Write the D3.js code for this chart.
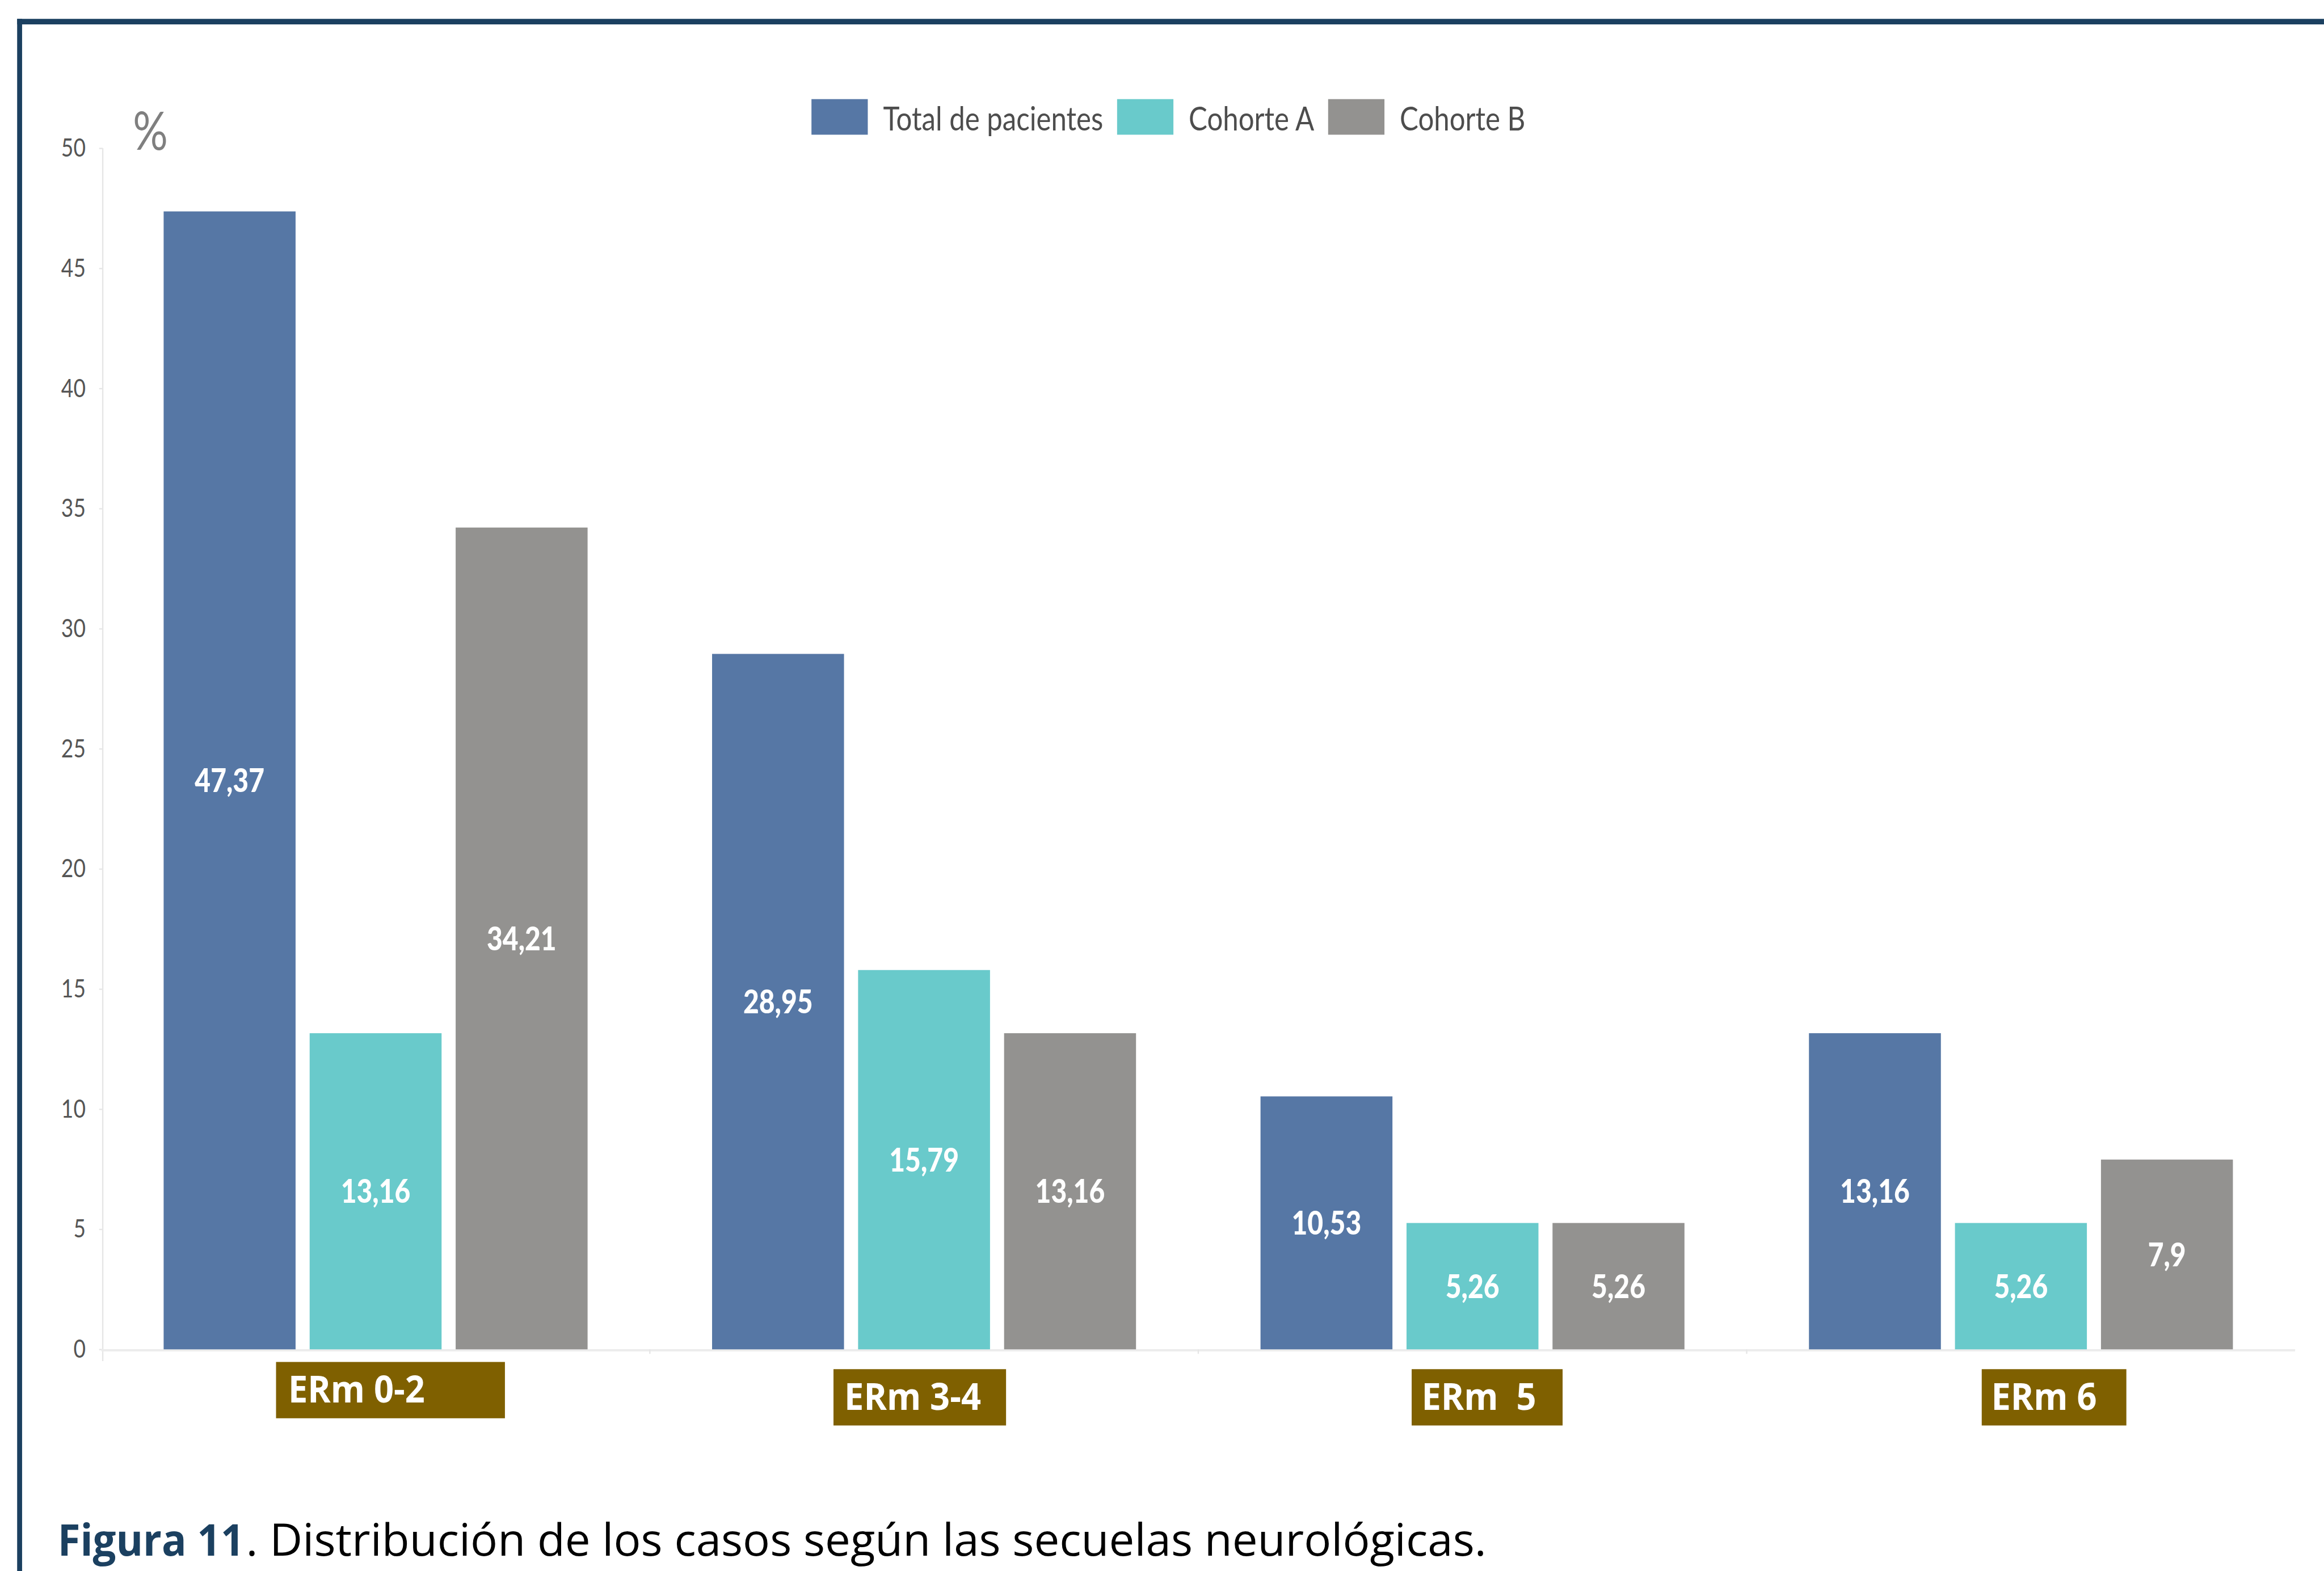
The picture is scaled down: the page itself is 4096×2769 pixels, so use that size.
<!DOCTYPE html>
<html>
<head>
<meta charset="utf-8">
<script src="https://d3js.org/d3.v7.min.js"></script>
<style>
  html, body { margin: 0; padding: 0; background: #fff; }
  svg { display: block; }
</style>
</head>
<body>
<script>

// data
const categories = ["ERm 0-2", "ERm 3-4", "ERm  5", "ERm 6"];
const series = ["Total de pacientes", "Cohorte A", "Cohorte B"];
const totalValues = [47.37, 28.95, 10.53, 13.16];
const cohortA = [13.16, 15.79, 5.26, 5.26];
const cohortB = [34.21, 13.16, 5.26, 7.9];
const yTicks = [0, 5, 10, 15, 20, 25, 30, 35, 40, 45, 50];
const caption1 = "Figura 11";
const caption2 = ". Distribución de los casos según las secuelas neurológicas.";

// styling (drawn in reference pixels, the viewBox shrinks it to the window)
const W = 5158, H = 3487;
const colors = ["#5677a5", "#69cacb", "#939290"];
const navy = "#1b4060";
const olive = "#7f6000";
// category tags: offset of box from the group centre, box top, width
const tagLayout = [
  {dx: -221, top: 3023, w: 508, pad: 27},
  {dx: -201, top: 3039, w: 383, pad: 24},
  {dx: -135, top: 3039, w: 335, pad: 22},
  {dx: -87,  top: 3039, w: 321, pad: 21}
];

let svg = d3.select("body").append("svg")
  .attr("width", 4096)
  .attr("height", 2769)
  .attr("viewBox", `0 0 ${W} ${H}`);

// squeeze text horizontally, the figure's lettering is narrow
function squish(sel, k) {
  sel.each(function () {
    let w = this.getComputedTextLength();
    d3.select(this).attr("textLength", w * k).attr("lengthAdjust", "spacingAndGlyphs");
  });
}

// frame
svg.append("line").attr("x1", 38).attr("x2", W).attr("y1", 48).attr("y2", 48)
  .attr("stroke", navy).attr("stroke-width", 12);
svg.append("line").attr("x1", 43.5).attr("x2", 43.5).attr("y1", 42).attr("y2", H)
  .attr("stroke", navy).attr("stroke-width", 11);

let y = d3.scaleLinear().domain([0, 50]).range([2995, 329]);
let x = d3.scaleBand().domain(categories).range([225, 5094])
  .paddingInner(0.227).paddingOuter(0.1135);
let xs = d3.scaleBand().domain(series).range([0, x.bandwidth()]).paddingInner(0.0964);

// y axis
let yAxis = svg.append("g")
  .attr("transform", "translate(228,0)")
  .call(d3.axisLeft(y).tickValues(yTicks).tickSize(8).tickPadding(30));
yAxis.select(".domain").remove();
yAxis.selectAll(".tick line").attr("stroke", "#e6e6e6").attr("stroke-width", 3);
yAxis.selectAll(".tick text")
  .attr("font-family", "Lato").attr("font-size", 57).attr("fill", "#555");
squish(yAxis.selectAll(".tick text"), 0.82);

svg.append("line").attr("x1", 228).attr("x2", 228)
  .attr("y1", y(50)).attr("y2", y(0) + 26)
  .attr("stroke", "#e6e6e6").attr("stroke-width", 3);

// baseline with small ticks between groups
svg.append("line").attr("x1", 225).attr("x2", 5094)
  .attr("y1", y(0) + 2).attr("y2", y(0) + 2)
  .attr("stroke", "#ececec").attr("stroke-width", 5);
svg.selectAll(".sep")
  .data(categories.slice(1))
  .join("line")
  .attr("class", "sep")
  .attr("x1", d => x(d) - x.step() * x.paddingInner() / 2)
  .attr("x2", d => x(d) - x.step() * x.paddingInner() / 2)
  .attr("y1", y(0)).attr("y2", y(0) + 10)
  .attr("stroke", "#e6e6e6").attr("stroke-width", 3);

// "%" unit
let pct = svg.append("text").attr("x", 295).attr("y", 333)
  .attr("font-family", "Lato").attr("font-size", 118).attr("fill", "#7f7f7f")
  .text("%");
squish(pct, 0.82);

// bars
let table = categories.map((c, i) => ({
  cat: c,
  vals: [totalValues[i], cohortA[i], cohortB[i]]
}));

let groups = svg.selectAll(".grp")
  .data(table)
  .join("g")
  .attr("class", "grp")
  .attr("transform", d => `translate(${x(d.cat)},0)`);

groups.selectAll("rect")
  .data(d => d.vals.map((v, j) => ({s: series[j], v: v, j: j})))
  .join("rect")
  .attr("x", d => xs(d.s))
  .attr("y", d => y(d.v))
  .attr("width", xs.bandwidth())
  .attr("height", d => y(0) - y(d.v))
  .attr("fill", d => colors[d.j]);

let valueLabels = groups.selectAll(".val")
  .data(d => d.vals.map((v, j) => ({s: series[j], v: v, j: j})))
  .join("text")
  .attr("class", "val")
  .attr("x", d => xs(d.s) + xs.bandwidth() / 2)
  .attr("y", d => (y(d.v) + y(0)) / 2 + 26)
  .attr("text-anchor", "middle")
  .attr("font-family", "Lato").attr("font-weight", 900).attr("font-size", 72)
  .attr("fill", "#fff")
  .text(d => String(d.v).replace(".", ","));
squish(valueLabels, 0.84);

// legend
let legend = svg.append("g");
let lx = 1801;
series.forEach((s, i) => {
  legend.append("rect").attr("x", lx).attr("y", 220).attr("width", 125).attr("height", 79)
    .attr("fill", colors[i]);
  lx += 125 + 34;
  let t = legend.append("text").attr("x", lx).attr("y", 290)
    .attr("font-family", "Lato").attr("font-size", 72).attr("fill", "#4d4d4d")
    .text(s);
  let w = t.node().getComputedTextLength() * 0.86;
  t.attr("textLength", w).attr("lengthAdjust", "spacingAndGlyphs");
  lx += w + 31;
});

// category tags
svg.selectAll(".tag")
  .data(categories)
  .join("rect")
  .attr("class", "tag")
  .attr("x", (d, i) => x(d) + x.bandwidth() / 2 + tagLayout[i].dx)
  .attr("y", (d, i) => tagLayout[i].top)
  .attr("width", (d, i) => tagLayout[i].w)
  .attr("height", 125)
  .attr("fill", olive);

let tagText = svg.selectAll(".tagtext")
  .data(categories)
  .join("text")
  .attr("class", "tagtext")
  .attr("x", (d, i) => x(d) + x.bandwidth() / 2 + tagLayout[i].dx + tagLayout[i].pad)
  .attr("y", (d, i) => tagLayout[i].top + 90)
  .attr("xml:space", "preserve")
  .style("white-space", "pre")
  .attr("font-family", "Open Sans").attr("font-weight", 700).attr("font-size", 84)
  .attr("fill", "#fff")
  .text(d => d);
squish(tagText, 0.92);

// caption
svg.append("text").attr("x", 128).attr("y", 3453)
  .attr("font-family", "Open Sans").attr("font-weight", 700).attr("font-size", 98)
  .attr("fill", navy)
  .attr("textLength", 414).attr("lengthAdjust", "spacingAndGlyphs")
  .text(caption1);
svg.append("text").attr("x", 546).attr("y", 3453)
  .attr("font-family", "Open Sans").attr("font-size", 98)
  .attr("fill", "#000")
  .attr("textLength", 2753).attr("lengthAdjust", "spacingAndGlyphs")
  .text(caption2);

</script>
</body>
</html>
